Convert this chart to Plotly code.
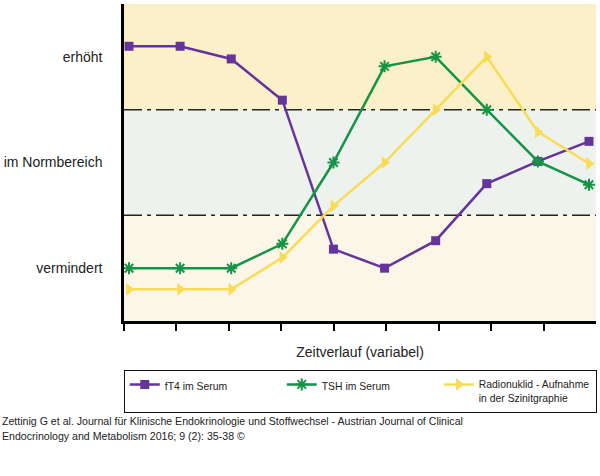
import plotly.graph_objects as go

steps = list(range(10))
ft4 = [2.60, 2.60, 2.48, 2.09, 0.68, 0.50, 0.76, 1.30, 1.51, 1.70]
tsh = [0.50, 0.50, 0.50, 0.73, 1.50, 2.41, 2.50, 2.00, 1.51, 1.29]
radio = [0.30, 0.30, 0.30, 0.60, 1.09, 1.50, 2.00, 2.50, 1.79, 1.49]
level_vals = [0.5, 1.5, 2.5]
level_labels = ["vermindert", "im Normbereich", "erhöht"]
band_edges = [0, 1, 2, 3]
band_colors = ["#fcf6e8", "#eef2ee", "#fcf0ca"]
citation = ["Zettinig G et al. Journal für Klinische Endokrinologie und Stoffwechsel - Austrian Journal of Clinical",
            "Endocrinology and Metabolism 2016; 9 (2): 35-38 ©"]

PURPLE = "#65349a"
GREEN = "#159445"
YELLOW = "#f7dc55"
FONT = "Liberation Sans, Arial, sans-serif"

fig = go.Figure()
fig.add_trace(go.Scatter(x=steps, y=ft4, mode="lines+markers", name="fT4 im Serum",
                         line=dict(color=PURPLE, width=2.5),
                         marker=dict(symbol="square", size=9, color=PURPLE)))
fig.add_trace(go.Scatter(x=steps, y=tsh, mode="lines+markers", name="TSH im Serum",
                         line=dict(color=GREEN, width=2.5),
                         marker=dict(symbol="asterisk", size=10, color=GREEN,
                                     line=dict(color=GREEN, width=2))))
fig.add_trace(go.Scatter(x=steps, y=radio, mode="lines+markers",
                         name="Radionuklid - Aufnahme<br>in der Szinitgraphie",
                         line=dict(color=YELLOW, width=2.5),
                         marker=dict(symbol="triangle-right", size=11, color=YELLOW)))

shapes = []
for i, c in enumerate(band_colors):
    shapes.append(dict(type="rect", xref="paper", yref="y", x0=0, x1=1,
                       y0=band_edges[i], y1=band_edges[i + 1],
                       fillcolor=c, line=dict(width=0), layer="below"))
for yv in band_edges[1:3]:
    shapes.append(dict(type="line", xref="paper", yref="y", x0=0, x1=1, y0=yv, y1=yv,
                       line=dict(color="#222222", width=1.5, dash="18px,5px,4px,5px"),
                       layer="below"))

annotations = []
for i, line in enumerate(citation):
    annotations.append(dict(xref="paper", yref="paper", x=-124 / 472,
                            y=(321 - (421 + 15 * i)) / 317,
                            xanchor="left", yanchor="middle", align="left", showarrow=False,
                            text=line,
                            font=dict(size=10.6, family=FONT, color="#222222")))

fig.update_layout(
    width=600, height=476,
    margin=dict(l=124, r=4, t=4, b=155),
    paper_bgcolor="white", plot_bgcolor="white",
    font=dict(family=FONT, color="#222222"),
    shapes=shapes,
    annotations=annotations,
    showlegend=True,
    legend=dict(orientation="h", x=-0.0005, xanchor="left", y=-0.155, yanchor="top",
                bordercolor="#111111", borderwidth=1, bgcolor="white",
                font=dict(size=10.4, family=FONT, color="#222222"),
                entrywidth=112, entrywidthmode="pixels", itemwidth=30,
                valign="top", tracegroupgap=0),
)
fig.update_xaxes(range=[-0.098, 9.137], showgrid=False, zeroline=False,
                 showline=True, linecolor="black", linewidth=2.5,
                 ticks="outside", ticklen=7, tickwidth=2, tickcolor="black",
                 tick0=-0.098, dtick=1.0263, showticklabels=False,
                 title=dict(text="Zeitverlauf (variabel)", font=dict(size=14, family=FONT, color="#222222"), standoff=18))
fig.update_yaxes(range=[0, 3], showgrid=False, zeroline=False,
                 showline=True, linecolor="black", linewidth=2.5,
                 ticks="", tickvals=level_vals, ticktext=level_labels,
                 tickfont=dict(size=14, family=FONT, color="#222222"),
                 ticklabelstandoff=16)

fig.write_html("out.html", config={"displayModeBar": False},
               post_script="document.body.style.margin='0px';")
